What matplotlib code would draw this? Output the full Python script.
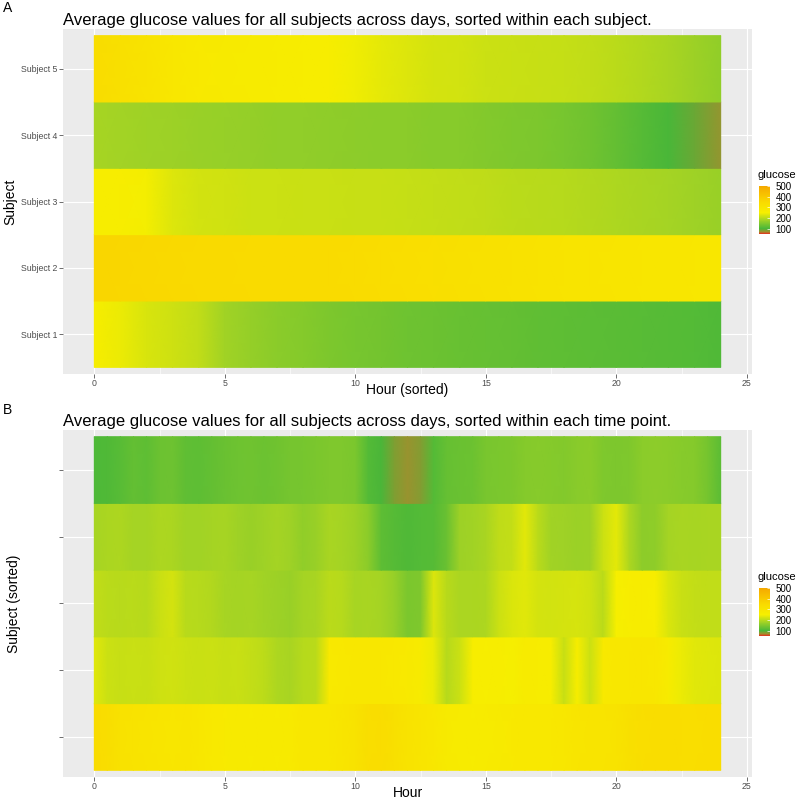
import numpy as np
import matplotlib
matplotlib.use("Agg")
import matplotlib.pyplot as plt
from matplotlib.colors import LinearSegmentedColormap, Normalize

plt.rcParams['font.family'] = ['Liberation Sans', 'DejaVu Sans']

# colour scale (glucose value -> colour)
scale_vals = [50, 72, 100, 180, 250, 350, 500]
scale_cols = ["#E5331D", "#9C922F", "#49B739", "#A2D325", "#F7EF00", "#F9DA00", "#F5A800"]
legend_ticks = [100, 200, 300, 400, 500]

subjects = ["Subject 1", "Subject 2", "Subject 3", "Subject 4", "Subject 5"]

# panel A: hourly values, sorted within each subject (hour 0..24)
hours_a = np.arange(0, 25, 1)
subj1 = [256, 240, 225, 216, 205, 180, 168, 160, 154, 147, 142, 138, 134, 131, 128, 126, 124, 122, 120, 118, 116, 114, 112, 110, 108]
subj2 = [362, 358, 355, 352, 350, 348, 346, 345, 344, 342, 340, 336, 330, 325, 320, 316, 312, 308, 304, 300, 297, 294, 292, 290, 288]
subj3 = [262, 258, 248, 228, 220, 217, 215, 214, 213, 212, 211, 210, 209, 207, 205, 203, 201, 199, 196, 193, 190, 186, 182, 177, 172]
subj4 = [184, 181, 178, 175, 172, 170, 168, 166, 165, 163, 162, 160, 159, 157, 156, 153, 150, 147, 142, 135, 125, 112, 102, 90, 76]
subj5 = [338, 322, 305, 290, 280, 272, 268, 265, 262, 260, 245, 235, 228, 222, 219, 215, 213, 211, 209, 205, 200, 193, 186, 176, 165]

# panel B: half-hourly values, sorted within each time point (row 1 = highest)
hours_b = np.arange(0, 24.5, 0.5)
b_row1 = [340, 330, 312, 305, 300, 296, 294, 296, 288, 280,
          275, 272, 270, 272, 270, 276, 286, 290, 290, 295,
          310, 328, 335, 322, 306, 296, 286, 272, 268, 266,
          268, 272, 280, 284, 282, 285, 288, 295, 300, 302,
          305, 322, 330, 334, 336, 332, 328, 334, 336]
b_row2 = [232, 214, 210, 212, 210, 216, 218, 214, 212, 214,
          210, 212, 208, 202, 190, 186, 196, 200, 278, 282,
          286, 290, 288, 282, 278, 270, 240, 196, 214, 262,
          256, 258, 250, 268, 266, 262, 210, 262, 214, 280,
          286, 290, 292, 288, 270, 240, 232, 230, 228]
b_row3 = [206, 200, 198, 200, 196, 212, 222, 198, 196, 194,
          184, 182, 184, 180, 176, 172, 182, 186, 200, 196,
          184, 186, 182, 170, 146, 150, 228, 198, 188, 188,
          190, 214, 226, 232, 222, 220, 222, 224, 218, 200,
          250, 262, 264, 258, 226, 212, 208, 206, 206]
b_row4 = [184, 188, 190, 182, 182, 190, 188, 180, 180, 182,
          184, 178, 172, 178, 182, 178, 166, 172, 186, 182,
          176, 160, 120, 112, 108, 110, 112, 130, 176, 180,
          186, 204, 208, 234, 200, 180, 178, 174, 176, 215,
          236, 190, 162, 164, 182, 186, 184, 186, 186]
b_row5 = [105, 108, 114, 125, 120, 132, 134, 122, 120, 124,
          130, 134, 136, 132, 136, 140, 142, 146, 150, 150,
          146, 110, 100, 82, 74, 80, 110, 126, 130, 132,
          144, 146, 148, 154, 156, 154, 152, 158, 160, 150,
          148, 150, 160, 162, 160, 156, 154, 140, 118]

vmin, vmax = 50, 500
cmap = LinearSegmentedColormap.from_list(
    "gluc", [((v - vmin) / (vmax - vmin), c) for v, c in zip(scale_vals, scale_cols)])
norm = Normalize(vmin=vmin, vmax=vmax)

fig = plt.figure(figsize=(8, 8), dpi=100)


def draw_rows(ax, hours, rows):
    mesh = None
    for i, vals in enumerate(rows):
        y = i + 1
        X = np.vstack([hours, hours])
        Y = np.vstack([np.full(len(hours), y - 0.5), np.full(len(hours), y + 0.5)])
        C = np.vstack([vals, vals])
        mesh = ax.pcolormesh(X, Y, C, shading='gouraud', cmap=cmap, norm=norm,
                             rasterized=True, zorder=2)
    return mesh


def style_axes(ax, ylabels):
    ax.set_facecolor("#EBEBEB")
    for s in ax.spines.values():
        s.set_visible(False)
    ax.set_xlim(-1.2, 25.2)
    ax.set_ylim(0.4, 5.6)
    ax.set_xticks([0, 5, 10, 15, 20, 25])
    ax.set_xticks([2.5, 7.5, 12.5, 17.5, 22.5], minor=True)
    ax.set_yticks([1, 2, 3, 4, 5])
    ax.set_yticklabels(ylabels)
    ax.grid(which='major', color='white', lw=0.8, zorder=0)
    ax.grid(which='minor', axis='x', color='white', lw=0.4, zorder=0)
    ax.set_axisbelow(True)
    ax.tick_params(which='major', length=2.7, width=0.5, color='#333333',
                   labelcolor='#4D4D4D', labelsize=6.3, pad=1.2)
    ax.tick_params(which='minor', length=0)


def add_legend(mesh, bar_top_px):
    cax = fig.add_axes([759 / 800, 1 - (bar_top_px + 48) / 800, 11 / 800, 48 / 800])
    cb = fig.colorbar(mesh, cax=cax, ticks=legend_ticks)
    cb.outline.set_visible(False)
    cax.tick_params(length=2, width=0.5, color='white', direction='in',
                    labelsize=7, labelcolor='black', pad=4)
    fig.text(758 / 800, 1 - (bar_top_px - 11) / 800, "glucose", fontsize=8,
             ha='left', va='center')


# panel A
axA = fig.add_axes([63 / 800, 1 - 374 / 800, 689 / 800, 345 / 800])
meshA = draw_rows(axA, hours_a, [subj1, subj2, subj3, subj4, subj5])
style_axes(axA, subjects)
axA.set_xlabel("Hour (sorted)", fontsize=10)
axA.xaxis.set_label_coords(0.5, -0.026)
axA.set_ylabel("Subject", fontsize=10)
axA.yaxis.set_label_coords(-0.066, 0.5)
axA.set_title("Average glucose values for all subjects across days, sorted within each subject.",
              loc='left', fontsize=12, pad=3)
add_legend(meshA, 186)
fig.text(3 / 800, 1 - 8 / 800, "A", fontsize=10, ha='left', va='center')

# panel B
axB = fig.add_axes([63 / 800, 1 - 777 / 800, 689 / 800, 347 / 800])
meshB = draw_rows(axB, hours_b, [b_row1, b_row2, b_row3, b_row4, b_row5])
style_axes(axB, ["", "", "", "", ""])
axB.set_xlabel("Hour", fontsize=10)
axB.xaxis.set_label_coords(0.5, -0.026)
axB.set_ylabel("Subject (sorted)", fontsize=10)
axB.yaxis.set_label_coords(-0.061, 0.5)
axB.set_title("Average glucose values for all subjects across days, sorted within each time point.",
              loc='left', fontsize=12, pad=3)
add_legend(meshB, 588)
fig.text(3 / 800, 1 - 410 / 800, "B", fontsize=10, ha='left', va='center')

fig.savefig("out.png", dpi=100)
